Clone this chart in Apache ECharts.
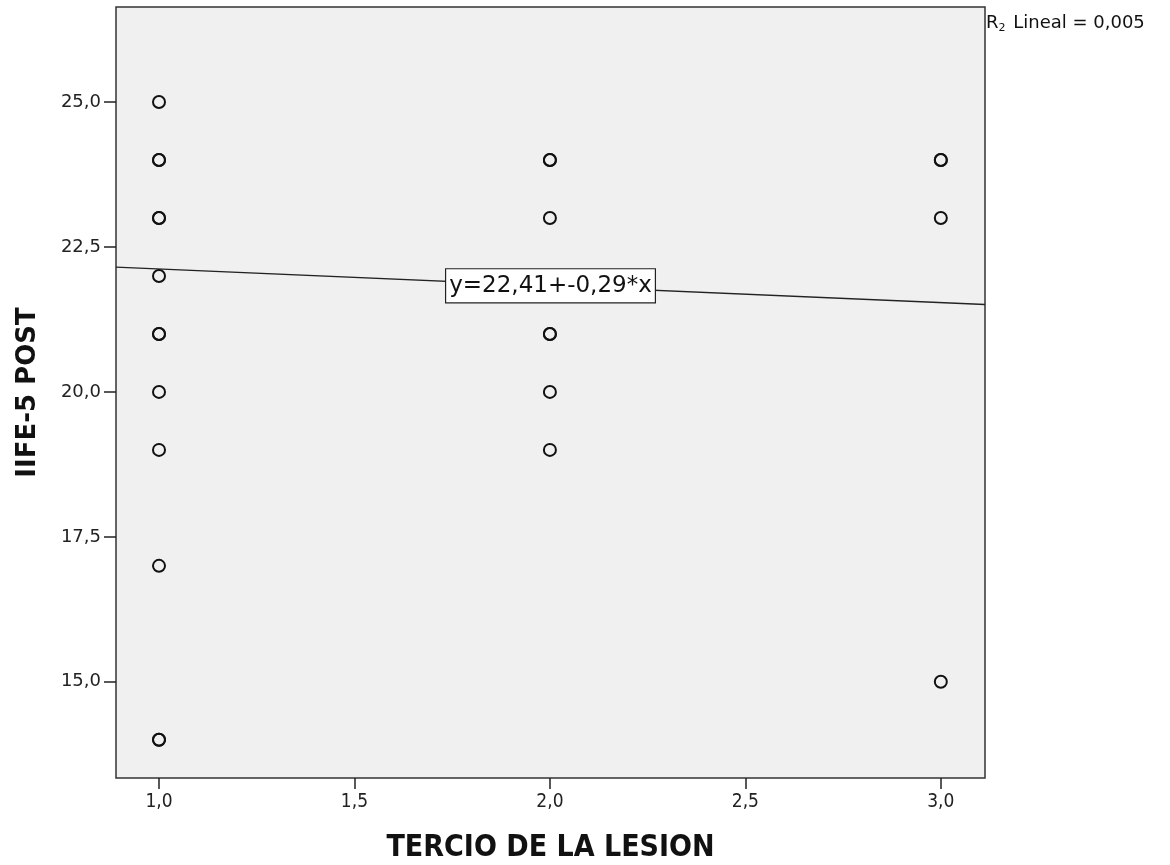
<!DOCTYPE html>
<html>
<head>
<meta charset="utf-8">
<script src="https://cdn.jsdelivr.net/npm/echarts@6/dist/echarts.min.js"></script>
<style>
  html, body { margin: 0; padding: 0; background: #fff; }
  #chart { width: 1170px; height: 865px; }
</style>
</head>
<body>
<div id="chart"></div>
<script>
// observed points (duplicates are overlapping cases)
const tercio = [1, 1, 1, 1, 1, 1, 1, 1, 1, 1, 1, 1, 1, 2, 2, 2, 2, 2, 2, 2, 3, 3, 3, 3];
const iife = [25, 24, 24, 23, 23, 22, 21, 21, 20, 19, 17, 14, 14, 24, 24, 23, 21, 21, 20, 19, 24, 24, 23, 15];

// fitted line
const intercept = 22.41;
const slope = -0.29;
const xRange = [0.89, 3.113];
const yRange = [13.34, 26.64];
const xTicks = [1, 1.5, 2, 2.5, 3];
const yTicks = [15, 17.5, 20, 22.5, 25];
const rSquared = '0,005';

const chart = echarts.init(document.getElementById('chart'));

const fmt = v => v.toFixed(1).replace('.', ',');
const points = tercio.map((x, i) => [x, iife[i]]);
const fitLine = xRange.map(x => [x, intercept + slope * x]);
const midX = (xRange[0] + xRange[1]) / 2;
const eqLabel = 'y=' + intercept.toFixed(2).replace('.', ',') + '+' + slope.toFixed(2).replace('.', ',') + '*x';

const font = '"DejaVu Sans", Verdana, sans-serif';
const narrow = '"Liberation Sans Narrow", "DejaVu Sans Condensed", sans-serif';

chart.setOption({
    animation: false,
    grid: {
        left: 116, top: 7, right: 185, bottom: 87,
        outerBoundsMode: 'none',
        show: true,
        backgroundColor: '#f0f0f0',
        borderColor: '#333',
        borderWidth: 1.5
    },
    xAxis: {
        type: 'value',
        min: xRange[0],
        max: xRange[1],
        name: 'TERCIO DE LA LESION',
        nameLocation: 'middle',
        nameGap: 55,
        nameTextStyle: {
            fontFamily: narrow,
            fontWeight: 'bold', fontSize: 30, color: '#111'
        },
        axisLine: { show: false },
        splitLine: { show: false },
        axisTick: { show: true, customValues: xTicks, length: 11, lineStyle: { color: '#222', width: 1.5 } },
        axisLabel: {
            customValues: xTicks, formatter: fmt, margin: 15,
            fontFamily: narrow, fontSize: 19, color: '#222'
        }
    },
    yAxis: {
        type: 'value',
        min: yRange[0],
        max: yRange[1],
        name: 'IIFE-5 POST',
        nameLocation: 'middle',
        nameGap: 75,
        nameTextStyle: {
            fontFamily: font,
            fontWeight: 'bold', fontSize: 26, color: '#111'
        },
        axisLine: { show: false },
        splitLine: { show: false },
        axisTick: { show: true, customValues: yTicks, length: 12, lineStyle: { color: '#222', width: 1.5 } },
        axisLabel: {
            customValues: yTicks, formatter: fmt, margin: 15,
            fontFamily: font, fontSize: 18, color: '#222'
        }
    },
    series: [
        {
            type: 'line',
            data: fitLine,
            symbol: 'none',
            lineStyle: { color: '#222', width: 1.4 },
            z: 2
        },
        {
            type: 'scatter',
            data: points,
            symbol: 'circle',
            symbolSize: 12,
            itemStyle: { color: 'rgba(0,0,0,0)', borderColor: '#111', borderWidth: 2, opacity: 1 },
            z: 3
        },
        {
            type: 'scatter',
            data: [[midX, intercept + slope * midX]],
            symbolSize: 0,
            silent: true,
            itemStyle: { opacity: 1 },
            z: 4,
            label: {
                show: true,
                position: 'inside',
                formatter: eqLabel,
                fontFamily: font,
                fontSize: 23,
                color: '#111',
                backgroundColor: '#fff',
                borderColor: '#222',
                borderWidth: 1.2,
                padding: [6, 3, 4, 3]
            }
        }
    ],
    graphic: [{
        type: 'text',
        left: 986,
        top: 14,
        style: {
            text: '{r|R}{s|2} Lineal = ' + rSquared,
            rich: {
                r: { fontFamily: font, fontSize: 18, fill: '#111' },
                s: { fontFamily: font, fontSize: 11, fill: '#111', padding: [10, 2, 0, 0] }
            },
            fontFamily: font,
            fontSize: 18,
            fill: '#111'
        }
    }]
});
</script>
</body>
</html>
